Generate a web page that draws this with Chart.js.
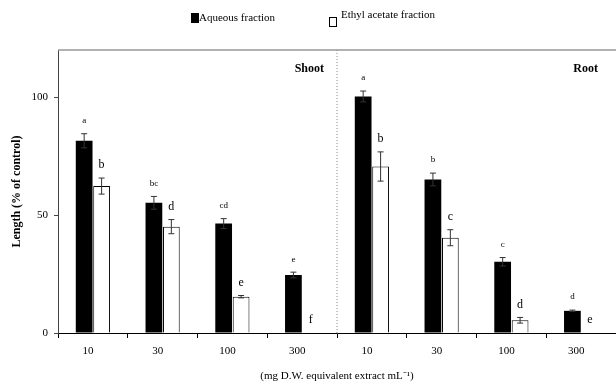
<!DOCTYPE html>
<html>
<head>
<meta charset="utf-8">
<script src="https://cdn.jsdelivr.net/npm/chart.js@4"></script>
<style>
  body { margin: 0; background: #fff; }
  #wrap { position: relative; width: 616px; height: 385px; }
  .lg { position: absolute; font: 11px 'Liberation Serif', 'Times New Roman', serif; color: #000; white-space: nowrap; }
  .box { position: absolute; width: 6px; height: 8px; border: 1px solid #000; }
</style>
</head>
<body>
<div id="wrap">
  <canvas id="chart" width="616" height="385"></canvas>
  <div class="box" style="left:191px;top:13px;background:#000"></div>
  <div class="lg" style="left:199px;top:11px">Aqueous fraction</div>
  <div class="box" style="left:329px;top:17px;background:#fff"></div>
  <div class="lg" style="left:341px;top:8px">Ethyl acetate fraction</div>
</div>
<script>
'use strict';

// Doses, first four for shoot, last four for root
const doses = ['10', '30', '100', '300', '10', '30', '100', '300'];

// Aqueous fraction (black bars)
const aqueous = [81.5, 55.2, 46.4, 24.6, 100.3, 65.1, 30.2, 9.4];
const aqueousErr = [3.0, 2.7, 2.1, 1.2, 2.3, 2.7, 1.8, 0.3];
const aqueousLetters = ['a', 'bc', 'cd', 'e', 'a', 'b', 'c', 'd'];

// Ethyl acetate fraction (white bars)
const ethyl = [62.3, 45.1, 15.4, 0, 70.6, 40.4, 5.4, 0];
const ethylErr = [3.4, 3.0, 0.5, 0, 6.2, 3.4, 1.2, 0];
const ethylLetters = ['b', 'd', 'e', 'f', 'b', 'c', 'd', 'e'];

const yTicks = [0, 50, 100];
const panels = ['Shoot', 'Root'];

const serif = "'Liberation Serif', 'Times New Roman', serif";
Chart.defaults.font.family = serif;
Chart.defaults.color = '#000';

// Error bars, significance letters, panel names and the divider
const extras = {
  id: 'extras',
  afterDatasetsDraw(chart) {
    const ctx = chart.ctx;
    const x = chart.scales.x;
    const y = chart.scales.y;
    const area = chart.chartArea;
    const errs = [aqueousErr, ethylErr];
    const letters = [aqueousLetters, ethylLetters];
    const sizes = [9, 12];

    ctx.save();
    chart.data.datasets.forEach((ds, d) => {
      const meta = chart.getDatasetMeta(d);
      meta.data.forEach((bar, i) => {
        const v = ds.data[i];
        const e = errs[d][i];
        const top = y.getPixelForValue(v + e);
        if (e > 0) {
          const bot = y.getPixelForValue(v - e);
          ctx.strokeStyle = '#333';
          ctx.lineWidth = 1;
          ctx.beginPath();
          ctx.moveTo(bar.x, top); ctx.lineTo(bar.x, bot);
          ctx.moveTo(bar.x - 3, top); ctx.lineTo(bar.x + 3, top);
          ctx.moveTo(bar.x - 3, bot); ctx.lineTo(bar.x + 3, bot);
          ctx.stroke();
        }
        ctx.fillStyle = '#000';
        ctx.font = sizes[d] + 'px ' + serif;
        ctx.textAlign = 'center';
        ctx.textBaseline = 'middle';
        ctx.fillText(letters[d][i], bar.x, top - 13);
      });
    });

    // top border
    ctx.strokeStyle = '#999';
    ctx.lineWidth = 1.5;
    ctx.beginPath();
    ctx.moveTo(area.left, area.top);
    ctx.lineTo(area.right, area.top);
    ctx.stroke();

    // dotted divider between shoot and root
    const mid = (x.getPixelForValue(3) + x.getPixelForValue(4)) / 2;
    ctx.strokeStyle = '#888';
    ctx.lineWidth = 1;
    ctx.setLineDash([1, 2]);
    ctx.beginPath();
    ctx.moveTo(mid, area.top);
    ctx.lineTo(mid, area.bottom);
    ctx.stroke();
    ctx.setLineDash([]);

    ctx.font = 'bold 12px ' + serif;
    ctx.textAlign = 'right';
    ctx.textBaseline = 'middle';
    const ly = y.getPixelForValue(112);
    ctx.fillText(panels[0], mid - 13, ly);
    ctx.fillText(panels[1], area.right - 18, ly);
    ctx.restore();
  }
};

new Chart(document.getElementById('chart'), {
  type: 'bar',
  data: {
    labels: doses,
    datasets: [
      {
        label: 'Aqueous fraction',
        data: aqueous,
        backgroundColor: '#000',
        borderColor: '#000',
        borderWidth: 0
      },
      {
        label: 'Ethyl acetate fraction',
        data: ethyl,
        backgroundColor: '#fff',
        borderColor: '#000',
        borderWidth: 1
      }
    ]
  },
  options: {
    responsive: false,
    animation: false,
    categoryPercentage: 0.5,
    barPercentage: 0.96,
    layout: { padding: { top: 50, right: 0, left: 0, bottom: 0 } },
    plugins: {
      legend: { display: false },
      tooltip: { enabled: false }
    },
    scales: {
      x: {
        grid: { drawOnChartArea: false, tickLength: 5, color: '#000' },
        border: { color: '#000' },
        ticks: { font: { size: 11 }, padding: 7, labelOffset: -5, maxRotation: 0 },
        title: {
          display: true,
          text: '(mg D.W. equivalent extract mL\u207B\u00B9)',
          font: { size: 11 },
          padding: { top: 0, bottom: 2 }
        },
        afterFit(scale) { scale.height = 52; }
      },
      y: {
        min: 0,
        max: 120,
        afterBuildTicks(scale) { scale.ticks = yTicks.map(v => ({ value: v })); },
        grid: { drawOnChartArea: false, tickLength: 4, color: '#444' },
        border: { color: '#444' },
        ticks: { font: { size: 11 }, padding: 6 },
        title: {
          display: true,
          text: 'Length (% of control)',
          font: { size: 12, weight: 'bold' },
          padding: { top: 10, bottom: 0 }
        },
        afterFit(scale) { scale.width = 58; }
      }
    }
  },
  plugins: [extras]
});
</script>
</body>
</html>
